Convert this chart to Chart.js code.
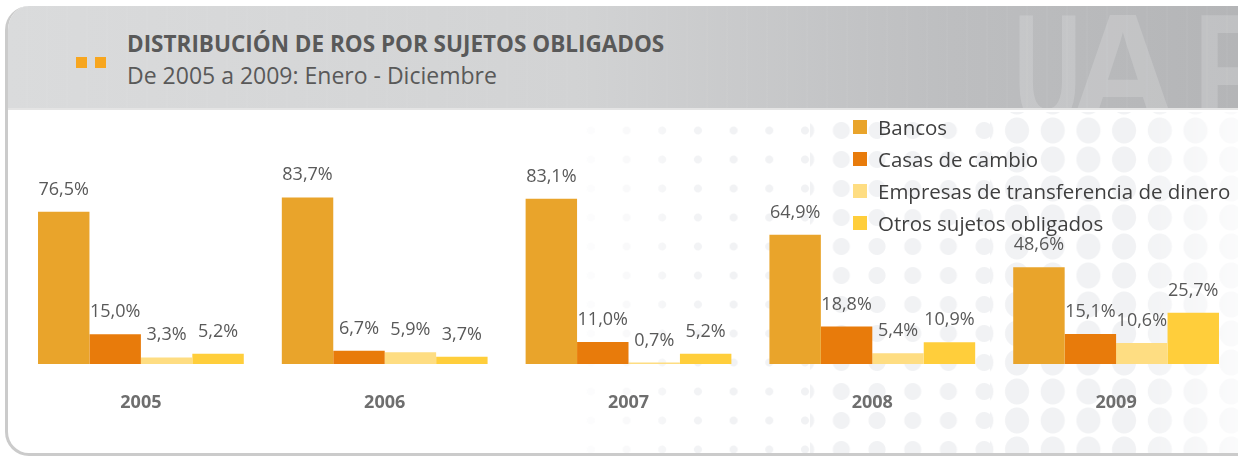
<!DOCTYPE html>
<html>
<head>
<meta charset="utf-8">
<script src="https://cdn.jsdelivr.net/npm/chart.js@4"></script>
<style>
  html, body { margin: 0; padding: 0; background: #ffffff; }
  #page { position: relative; width: 1238px; height: 459px; overflow: hidden; font-family: 'Open Sans', sans-serif; }
  #frame { position: absolute; left: 5px; top: 6px; width: 1260px; height: 447px; border: 3px solid #cbcbcb; border-right: none; border-top: none; border-radius: 24px; background: #ffffff; overflow: hidden; }
  #header { position: absolute; left: 0; top: 0; width: 1260px; height: 102px;
    background: repeating-linear-gradient(90deg, rgba(255,255,255,0) 0px, rgba(255,255,255,0) 18px, rgba(255,255,255,0.06) 19px, rgba(255,255,255,0) 20px),
                linear-gradient(90deg, #dadbdc 0%, #d2d3d4 45%, #bdbec0 75%, #b3b4b6 100%);
    border-bottom: 2px solid #e4e4e4; overflow: hidden; }
  .lt { position: absolute; top: -16px; font-family: 'Liberation Sans', sans-serif; font-weight: bold; font-size: 160px; color: rgba(255,255,255,0.17); line-height: 1; transform-origin: 0 0; white-space: nowrap; }
  .dots { position: absolute; top: 106px; height: 345px; background-size: 35.7px 29px; }
  #dotsS { left: 552px; width: 250px; background-position: 13px 4px;
    background-image: radial-gradient(circle, #f1f2f4 0, #f1f2f4 3.5px, rgba(241,242,244,0) 4.5px);
    -webkit-mask-image: linear-gradient(90deg, rgba(0,0,0,0) 0%, #000 60%); mask-image: linear-gradient(90deg, rgba(0,0,0,0) 0%, #000 60%); }
  #dotsM { left: 802px; width: 180px; background-position: 13.5px 4px;
    background-image: radial-gradient(circle, #f1f2f4 0, #f1f2f4 8px, rgba(241,242,244,0) 9px); }
  #dotsL { left: 982px; width: 280px; background-position: 9.2px 4px;
    background-image: radial-gradient(ellipse 12px 13px, #f1f2f4 0, #f1f2f4 11.5px, rgba(241,242,244,0) 12.5px);
    -webkit-mask-image: linear-gradient(90deg, #000 0%, #000 50%, rgba(0,0,0,0.3) 90%); mask-image: linear-gradient(90deg, #000 0%, #000 50%, rgba(0,0,0,0.3) 90%); }
  .sq { position: absolute; top: 57px; width: 11px; height: 11px; background: #f7a61f; }
  #title { position: absolute; left: 127px; top: 28px; font-weight: bold; font-size: 22.5px; color: #595959; white-space: nowrap; }
  #subtitle { position: absolute; left: 127px; top: 59px; font-size: 23px; color: #595959; white-space: nowrap; }
  #chartBox { position: absolute; left: 0; top: 0; width: 1238px; height: 459px; }
  #legend { position: absolute; left: 853px; top: 112px; font-size: 20.5px; color: #3f3f3f; }
  .lg { position: relative; height: 32px; line-height: 30px; white-space: nowrap; }
  .lg i { position: absolute; left: 0; top: 8px; width: 14px; height: 14px; }
  .lg span { position: absolute; left: 25px; top: 0; }
</style>
</head>
<body>
<div id="page">
  <div id="frame">
    <div id="header">
      <div class="lt" style="left:1006px; transform: scaleX(0.58);">U</div>
      <div class="lt" style="left:1060px; transform: scaleX(0.95);">A</div>
      <div class="lt" style="left:1186px; transform: scaleX(0.7);">F</div>
    </div>
    <div class="dots" id="dotsS"></div>
    <div class="dots" id="dotsM"></div>
    <div class="dots" id="dotsL"></div>
  </div>
  <div class="sq" style="left:76px"></div>
  <div class="sq" style="left:95px"></div>
  <div id="title">DISTRIBUCIÓN DE ROS POR SUJETOS OBLIGADOS</div>
  <div id="subtitle">De 2005 a 2009: Enero - Diciembre</div>
  <div id="chartBox"><canvas id="c" width="1238" height="459"></canvas></div>
  <div id="legend"></div>
</div>
<script>
const years = ['2005', '2006', '2007', '2008', '2009'];
const seriesNames = ['Bancos', 'Casas de cambio', 'Empresas de transferencia de dinero', 'Otros sujetos obligados'];
const bancos = [76.5, 83.7, 83.1, 64.9, 48.6];
const casasDeCambio = [15.0, 6.7, 11.0, 18.8, 15.1];
const empresasTransferencia = [3.3, 5.9, 0.7, 5.4, 10.6];
const otrosSujetos = [5.2, 3.7, 5.2, 10.9, 25.7];
const seriesColors = ['#e9a42b', '#e87b0b', '#fedd82', '#ffce3b'];

const allSeries = [bancos, casasDeCambio, empresasTransferencia, otrosSujetos];

const valueLabels = {
  id: 'valueLabels',
  afterDatasetsDraw(chart) {
    const ctx = chart.ctx;
    ctx.save();
    ctx.font = '18px "Open Sans", sans-serif';
    ctx.fillStyle = '#595959';
    ctx.textAlign = 'center';
    ctx.textBaseline = 'alphabetic';
    chart.data.datasets.forEach((ds, i) => {
      const meta = chart.getDatasetMeta(i);
      meta.data.forEach((bar, j) => {
        const v = ds.data[j];
        const txt = v.toFixed(1).replace('.', ',') + '%';
        ctx.fillText(txt, bar.x, bar.y - 17);
      });
    });
    ctx.restore();
  }
};

new Chart(document.getElementById('c'), {
  type: 'bar',
  data: {
    labels: years,
    datasets: allSeries.map((d, i) => ({
      label: seriesNames[i],
      data: d,
      backgroundColor: seriesColors[i],
      borderWidth: 0,
      categoryPercentage: 0.844,
      barPercentage: 1.0
    }))
  },
  options: {
    responsive: false,
    animation: false,
    devicePixelRatio: 1,
    layout: { padding: { left: 19, right: 0, top: 165, bottom: 35 } },
    plugins: { legend: { display: false }, tooltip: { enabled: false } },
    scales: {
      x: {
        grid: { display: false },
        border: { display: false },
        afterFit(scale) { scale.height = 60; },
        ticks: { padding: 20, color: '#6e6e6e', font: { family: 'Open Sans', size: 18, weight: 'bold' } }
      },
      y: { display: false, min: 0, max: 100 }
    }
  },
  plugins: [valueLabels]
});

const legend = document.getElementById('legend');
seriesNames.forEach((n, i) => {
  const row = document.createElement('div');
  row.className = 'lg';
  row.innerHTML = '<i style="background:' + seriesColors[i] + '"></i><span></span>';
  row.querySelector('span').textContent = n;
  legend.appendChild(row);
});
</script>
</body>
</html>
